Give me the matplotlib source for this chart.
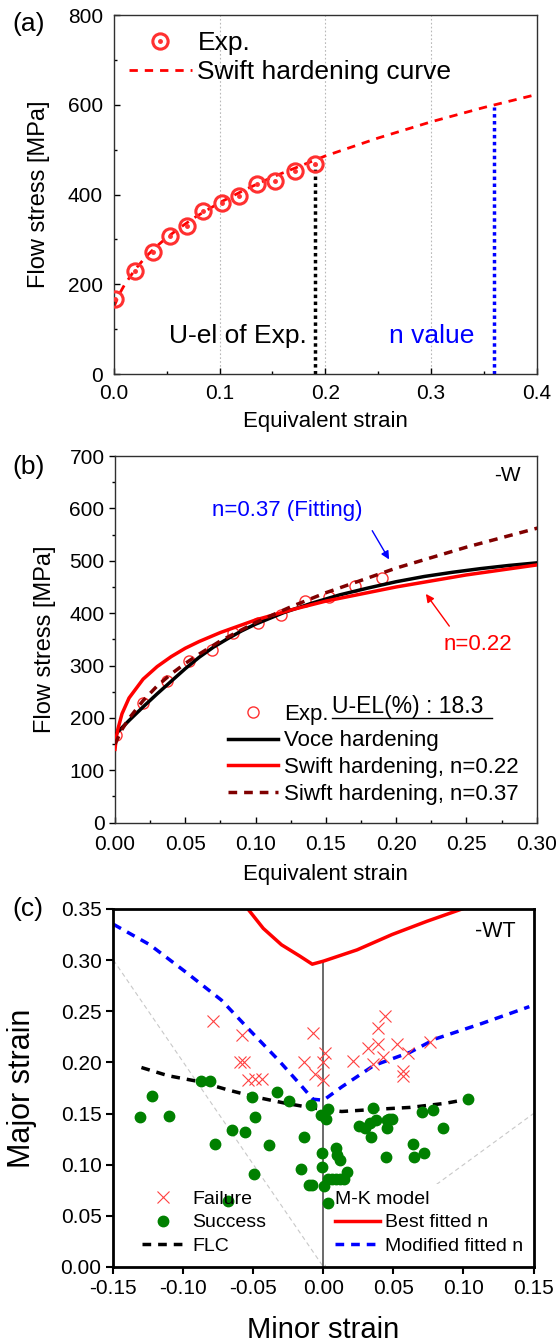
import matplotlib
matplotlib.use("Agg")
import matplotlib.pyplot as plt
from matplotlib.lines import Line2D
from matplotlib.patches import Rectangle
from matplotlib.legend_handler import HandlerTuple
from matplotlib.ticker import MultipleLocator, FormatStrFormatter

plt.rcParams['font.family'] = ['Liberation Sans', 'DejaVu Sans']
plt.rcParams['axes.unicode_minus'] = False

# ---- data ----
# experimental flow curve (panels a and b)
exp_strain = [0.001, 0.020, 0.037, 0.053, 0.069, 0.084, 0.102, 0.118, 0.135, 0.152, 0.171, 0.190]
exp_stress = [167, 229, 271, 308, 330, 363, 382, 396, 424, 431, 452, 468]

# Swift curve, n = 0.37
swift37_strain = [0, 0.005, 0.01, 0.02, 0.03, 0.04, 0.05, 0.06, 0.075, 0.1, 0.125, 0.15, 0.2, 0.25, 0.3, 0.35, 0.4]
swift37_stress = [150, 178, 199, 233, 261, 284, 304, 322, 347, 382, 412, 439, 486, 526, 562, 594, 623]

# Swift curve, n = 0.22
swift22_strain = [0, 0.001, 0.002, 0.005, 0.01, 0.02, 0.03, 0.04, 0.05, 0.06, 0.075, 0.1, 0.125, 0.15, 0.2, 0.25, 0.3]
swift22_stress = [140, 163, 178, 208, 238, 274, 298, 317, 333, 346, 363, 387, 406, 423, 450, 473, 492]

# Voce hardening
voce_strain = [0, 0.01, 0.02, 0.03, 0.04, 0.05, 0.06, 0.07, 0.08, 0.09, 0.10, 0.12, 0.14, 0.16, 0.18, 0.20, 0.22, 0.24, 0.26, 0.28, 0.30]
voce_stress = [168, 195, 221, 246, 270, 294, 316, 335, 351, 366, 379, 401, 419, 435, 448, 460, 470, 478, 485, 491, 496]

uel_strain = 0.19
uel_stress = 468
nval_strain = 0.36
nval_stress = 595

# FLD (panel c)
flc_minor = [-0.130, -0.111, -0.088, -0.068, -0.048, -0.027, -0.010, 0.0, 0.013, 0.036, 0.062, 0.087, 0.111]
flc_major = [0.195, 0.187, 0.181, 0.173, 0.166, 0.160, 0.156, 0.154, 0.152, 0.154, 0.156, 0.160, 0.166]

mk_best_minor = [-0.060, -0.054, -0.043, -0.030, -0.017, -0.008, 0.0, 0.024, 0.049, 0.074, 0.099, 0.120]
mk_best_major = [0.362, 0.350, 0.331, 0.315, 0.304, 0.296, 0.299, 0.310, 0.325, 0.338, 0.350, 0.360]

mk_mod_minor = [-0.150, -0.124, -0.099, -0.073, -0.053, -0.032, -0.017, -0.0075, 0.0, 0.013, 0.036, 0.062, 0.080, 0.113, 0.147]
mk_mod_major = [0.335, 0.315, 0.289, 0.261, 0.232, 0.202, 0.179, 0.164, 0.163, 0.176, 0.197, 0.210, 0.223, 0.238, 0.2545]

fail_minor = [-0.0786, -0.0584, -0.0596, -0.0567, -0.0536, -0.0489, -0.0441, -0.0072, -0.0139, -0.0060, -0.0005,
              -0.0001, 0.0011, 0.0214, 0.0316, 0.0352, 0.0392, 0.0388, 0.0424, 0.0440, 0.0528, 0.0607, 0.0571,
              0.0571, 0.0761]
fail_major = [0.2405, 0.2268, 0.2001, 0.2001, 0.1828, 0.1835, 0.1835, 0.2284, 0.2001, 0.1887, 0.1828,
              0.2007, 0.2087, 0.2017, 0.2144, 0.1981, 0.2177, 0.2333, 0.2056, 0.2457, 0.2180, 0.2095, 0.1919,
              0.1867, 0.2202]

succ_minor = [-0.1310, -0.1226, -0.1100, -0.0874, -0.0810, -0.0774, -0.0680, -0.0655, -0.0560, -0.0512, -0.0489,
              -0.0494, -0.0386, -0.0330, -0.0246, -0.0158, -0.0139, -0.0106, -0.0083, -0.0091, -0.0017, -0.0012,
              -0.0012, 0.0004, 0.0019, 0.0031, 0.0035, 0.0030, 0.0060, 0.0090, 0.0120, 0.0150, 0.0166, 0.0118,
              0.0099, 0.0088, 0.0257, 0.0297, 0.0333, 0.0341, 0.0352, 0.0375, 0.0452, 0.0470, 0.0488, 0.0456,
              0.0447, 0.0638, 0.0649, 0.0702, 0.0721, 0.0781, 0.0852, 0.1035]
succ_major = [0.1463, 0.1672, 0.1479, 0.1820, 0.1820, 0.1202, 0.0645, 0.1339, 0.1323, 0.1659, 0.1469,
              0.0909, 0.1193, 0.1714, 0.1626, 0.0955, 0.1274, 0.0797, 0.0797, 0.1584, 0.1486, 0.1117,
              0.0980, 0.0795, 0.1447, 0.1541, 0.0629, 0.0860, 0.0865, 0.0860, 0.0865, 0.0860, 0.0930, 0.1046,
              0.1097, 0.1160, 0.1378, 0.1356, 0.1405, 0.1274, 0.1557, 0.1439, 0.1437, 0.1445, 0.1444, 0.1356,
              0.1078, 0.1202, 0.1072, 0.1518, 0.1117, 0.1535, 0.1362, 0.1642]

# reference strain paths (uniaxial / equibiaxial)
uni_minor = [-0.15, 0.0]
uni_major = [0.30, 0.0]
biax_minor = [0.0, 0.15]
biax_major = [0.0, 0.15]

RED = '#ff0000'
PTRED = '#ff3030'
BLUE = '#0000ff'
DARKRED = '#800000'
GREEN = '#008000'

fig = plt.figure(figsize=(5.59, 13.44), dpi=100)

# ================= (a) =================
ax1 = fig.add_axes([0.2039, 0.7217, 0.7562, 0.2671])
for gx in [0.1, 0.2, 0.3]:
    ax1.axvline(gx, color='#b8b8b8', lw=0.8, ls=(0, (1.5, 2)), zorder=0)
ax1.plot(swift37_strain, swift37_stress, color=RED, lw=2, ls=(0, (3, 2.5)), zorder=2)
ax1.plot(exp_strain, exp_stress, ls='none', marker='o', ms=11, mfc='none', mec=PTRED, mew=2.2, zorder=3)
ax1.plot(exp_strain, exp_stress, ls='none', marker='o', ms=2.5, color=PTRED, zorder=3)
ax1.plot([uel_strain, uel_strain], [0, uel_stress], color='black', lw=2.5, ls=(0, (1, 1)), zorder=2)
ax1.plot([nval_strain, nval_strain], [0, nval_stress], color=BLUE, lw=2.5, ls=(0, (1, 1)), zorder=2)
ax1.text(0.182, 84, 'U-el of Exp.', ha='right', va='center', fontsize=19)
ax1.text(0.26, 84, 'n value', ha='left', va='center', fontsize=19, color=BLUE)

ax1.set_xlim(0, 0.4)
ax1.set_ylim(0, 800)
ax1.xaxis.set_major_locator(MultipleLocator(0.1))
ax1.xaxis.set_minor_locator(MultipleLocator(0.05))
ax1.yaxis.set_major_locator(MultipleLocator(200))
ax1.yaxis.set_minor_locator(MultipleLocator(100))
ax1.xaxis.set_major_formatter(FormatStrFormatter('%.1f'))
ax1.tick_params(which='both', direction='in', labelsize=15, width=1)
ax1.tick_params(which='major', length=4)
ax1.tick_params(which='minor', length=2.5)
ax1.tick_params(axis='x', pad=7.5)
ax1.tick_params(axis='y', pad=8)
ax1.set_xlabel('Equivalent strain', fontsize=16, va='center')
ax1.xaxis.set_label_coords(0.5, -0.131)
ax1.set_ylabel('Flow stress [MPa]', fontsize=17, va='center')
ax1.yaxis.set_label_coords(-0.177, 0.5)

h_exp = (Line2D([], [], ls='none', marker='o', ms=11, mfc='none', mec=PTRED, mew=2.2),
         Line2D([], [], ls='none', marker='o', ms=2.5, color=PTRED))
h_sw = Line2D([], [], color=RED, lw=2, ls=(0, (3, 2.5)))
ax1.legend([h_exp, h_sw], ['Exp.', 'Swift hardening curve'],
           handler_map={tuple: HandlerTuple(ndivide=1)},
           loc='upper left', bbox_to_anchor=(0.035, 0.955), frameon=False, fontsize=19,
           handlelength=2.4, handletextpad=0.2, labelspacing=0.2, borderpad=0, borderaxespad=0)

# ================= (b) =================
ax2 = fig.add_axes([0.2057, 0.3879, 0.7544, 0.2728])
ax2.plot(exp_strain, exp_stress, ls='none', marker='o', ms=8, mfc='none', mec=PTRED, mew=1, zorder=2)
ax2.plot(voce_strain, voce_stress, color='black', lw=2.5, zorder=3)
ax2.plot(swift22_strain, swift22_stress, color=RED, lw=2.5, zorder=3)
ax2.plot(swift37_strain, swift37_stress, color=DARKRED, lw=2.5, ls=(0, (2.5, 2)), zorder=3)

ax2.annotate('', xy=(0.196, 498), xytext=(0.182, 562),
             arrowprops=dict(arrowstyle='-|>', color=BLUE, lw=1, mutation_scale=12))
ax2.annotate('', xy=(0.220, 441), xytext=(0.239, 371),
             arrowprops=dict(arrowstyle='-|>', color=RED, lw=1, mutation_scale=12))
ax2.text(0.0692, 596, 'n=0.37 (Fitting)', ha='left', va='center', fontsize=16, color=BLUE)
ax2.text(0.234, 340, 'n=0.22', ha='left', va='center', fontsize=16, color=RED)
ax2.text(0.962, 0.947, '-W', transform=ax2.transAxes, ha='right', va='center', fontsize=15)

ax2.set_xlim(0, 0.3)
ax2.set_ylim(0, 700)
ax2.xaxis.set_major_locator(MultipleLocator(0.05))
ax2.xaxis.set_minor_locator(MultipleLocator(0.025))
ax2.yaxis.set_major_locator(MultipleLocator(100))
ax2.yaxis.set_minor_locator(MultipleLocator(50))
ax2.xaxis.set_major_formatter(FormatStrFormatter('%.2f'))
ax2.tick_params(which='both', labelsize=15, width=1)
ax2.tick_params(axis='x', which='both', direction='in', pad=9)
ax2.tick_params(axis='y', which='both', direction='out')
ax2.tick_params(which='major', length=4)
ax2.tick_params(which='minor', length=2.5)
ax2.set_xlabel('Equivalent strain', fontsize=16, va='center')
ax2.xaxis.set_label_coords(0.5, -0.142)
ax2.set_ylabel('Flow stress [MPa]', fontsize=17, va='center')
ax2.yaxis.set_label_coords(-0.167, 0.5)

h_e2 = Line2D([], [], ls='none', marker='o', ms=8, mfc='none', mec=PTRED, mew=1)
h_v = Line2D([], [], color='black', lw=2.5)
h_s22 = Line2D([], [], color=RED, lw=2.5)
h_s37 = Line2D([], [], color=DARKRED, lw=2.5, ls=(0, (2.5, 2)))
ax2.legend([h_e2, h_v, h_s22, h_s37],
           ['Exp.', 'Voce hardening', 'Swift hardening, n=0.22', 'Siwft hardening, n=0.37'],
           loc='upper left', bbox_to_anchor=(0.269, 0.325), frameon=False, fontsize=16,
           handlelength=2.24, handletextpad=0.25, labelspacing=0.26, borderpad=0, borderaxespad=0)
ax2.text(0.514, 0.317, 'U-EL(%) : 18.3', transform=ax2.transAxes, ha='left', va='center', fontsize=16.5)
ax2.plot([0.514, 0.894], [0.286, 0.286], transform=ax2.transAxes, color='black', lw=1, clip_on=False)

# ================= (c) =================
ax3 = fig.add_axes([0.2029, 0.0573, 0.7515, 0.2664])
ax3.plot(uni_minor, uni_major, color='#c8c8c8', lw=0.8, ls=(0, (4, 3)), zorder=1)
ax3.plot(biax_minor, biax_major, color='#c8c8c8', lw=0.8, ls=(0, (4, 3)), zorder=1)
ax3.add_patch(Rectangle((0.505, 0.003), 0.478, 0.228, transform=ax3.transAxes,
                        facecolor='white', edgecolor='none', zorder=1.5))
ax3.plot([0, 0], [0, 0.299], color='#505050', lw=1.2, zorder=2)
ax3.plot(mk_best_minor, mk_best_major, color=RED, lw=2.5, zorder=2.5)
ax3.plot(mk_mod_minor, mk_mod_major, color=BLUE, lw=2.5, ls=(0, (2.5, 2)), zorder=2.5)
ax3.plot(flc_minor, flc_major, color='black', lw=2.5, ls=(0, (2.5, 2)), zorder=2.5)
ax3.plot(succ_minor, succ_major, ls='none', marker='o', ms=7.5, color=GREEN, zorder=3)
ax3.plot(fail_minor, fail_major, ls='none', marker='x', ms=8, mew=0.8, color='#ff4040', zorder=3)
ax3.text(0.137, 0.328, '-WT', ha='right', va='center', fontsize=15.5)

ax3.set_xlim(-0.15, 0.15)
ax3.set_ylim(0, 0.35)
ax3.xaxis.set_major_locator(MultipleLocator(0.05))
ax3.yaxis.set_major_locator(MultipleLocator(0.05))
ax3.xaxis.set_major_formatter(FormatStrFormatter('%.2f'))
ax3.yaxis.set_major_formatter(FormatStrFormatter('%.2f'))
ax3.tick_params(direction='out', labelsize=15, length=5, width=1.5)
for sp in ax3.spines.values():
    sp.set_linewidth(2)
ax3.set_xlabel('Minor strain', fontsize=21, va='center')
ax3.xaxis.set_label_coords(0.5, -0.176)
ax3.set_ylabel('Major strain', fontsize=22, va='center')
ax3.yaxis.set_label_coords(-0.217, 0.5)

h_fail = Line2D([], [], ls='none', marker='x', ms=8, mew=0.8, color='#ff4040')
h_succ = Line2D([], [], ls='none', marker='o', ms=7.5, color=GREEN)
h_flc = Line2D([], [], color='black', lw=2.5, ls=(0, (2.5, 2)))
leg1 = ax3.legend([h_fail, h_succ, h_flc], ['Failure', 'Success', 'FLC'],
                  loc='lower left', bbox_to_anchor=(0.069, 0.0346), frameon=False, fontsize=14,
                  handlelength=2.1, handletextpad=0.45, labelspacing=0.29, borderpad=0, borderaxespad=0)
ax3.add_artist(leg1)
h_best = Line2D([], [], color=RED, lw=2.5)
h_mod = Line2D([], [], color=BLUE, lw=2.5, ls=(0, (2.5, 2)))
ax3.legend([h_best, h_mod], ['Best fitted n', 'Modified fitted n'], title='M-K model',
           title_fontsize=14, alignment='left',
           loc='lower left', bbox_to_anchor=(0.5277, 0.0346), frameon=False, fontsize=14,
           handlelength=2.3, handletextpad=0.27, labelspacing=0.29, borderpad=0, borderaxespad=0)

for ax in (ax1, ax2):
    for sp in ax.spines.values():
        sp.set_linewidth(1)
        sp.set_color('#303030')

fig.text(0.0224, 0.982, '(a)', fontsize=19, ha='left', va='center')
fig.text(0.0224, 0.6525, '(b)', fontsize=19, ha='left', va='center')
fig.text(0.0224, 0.3235, '(c)', fontsize=19, ha='left', va='center')

fig.savefig('out.png', dpi=100)
